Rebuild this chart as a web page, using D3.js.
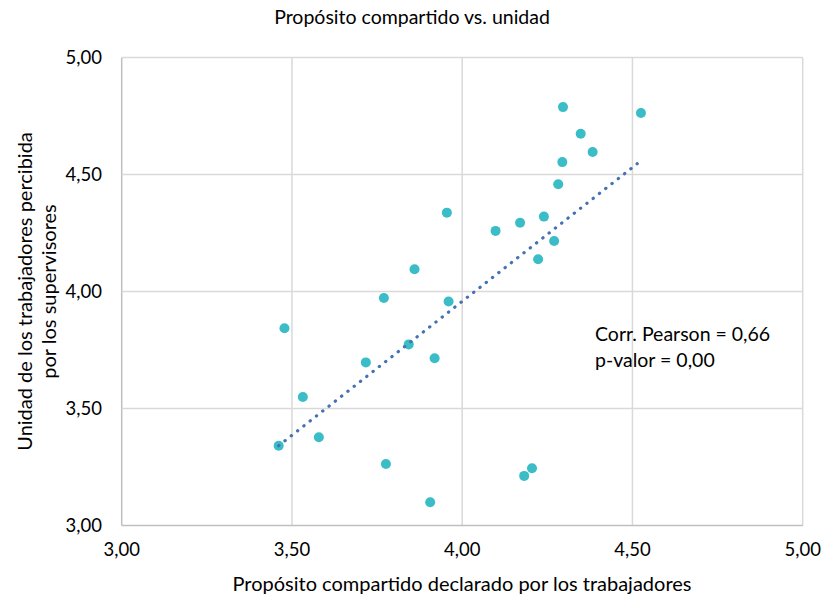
<!DOCTYPE html>
<html><head><meta charset="utf-8">
<script src="https://cdn.jsdelivr.net/npm/d3@7"></script>
<style>body{margin:0;background:#fff}text{font-family:Lato,"Open Sans",sans-serif;fill:#000}</style>
</head><body><svg id="c" width="824" height="604"></svg>
<script>
const xVals=[4.296,4.525,4.348,4.383,4.294,4.282,3.955,4.098,4.170,4.240,4.270,4.223,3.860,3.770,3.960,3.478,3.843,3.717,3.919,3.532,3.461,3.579,3.776,3.906,4.182,4.205];
const yVals=[4.788,4.763,4.674,4.596,4.553,4.458,4.337,4.259,4.294,4.320,4.216,4.138,4.095,3.972,3.957,3.843,3.774,3.697,3.715,3.549,3.341,3.377,3.263,3.099,3.212,3.245];
const trendX=[3.461,4.514];
const trendY=[3.341,4.546];
const xTicks=[3.0,3.5,4.0,4.5,5.0];
const yTicks=[3.0,3.5,4.0,4.5,5.0];
const title="Propósito compartido vs. unidad";
const xTitle="Propósito compartido declarado por los trabajadores";
const yTitle=["Unidad de los trabajadores percibida","por los supervisores"];
const note=["Corr. Pearson = 0,66","p-valor = 0,00"];

const svg=d3.select("#c");
const L=121.7,R=802.7,T=57.5,B=525.5;
const x=d3.scaleLinear().domain([3,5]).range([L,R]);
const y=d3.scaleLinear().domain([3,5]).range([B,T]);
const fmt=v=>d3.format(".2f")(v).replace(".",",");

// grid
svg.append("g").selectAll("line").data(xTicks).join("line")
 .attr("x1",d=>x(d)).attr("x2",d=>x(d)).attr("y1",T).attr("y2",B)
 .attr("stroke",d=>d===3?"#BFBFBF":"#D9D9D9").attr("stroke-width",1.5);
svg.append("g").selectAll("line").data(yTicks).join("line")
 .attr("y1",d=>y(d)).attr("y2",d=>y(d)).attr("x1",L).attr("x2",R)
 .attr("stroke",d=>d===3?"#BFBFBF":"#D9D9D9").attr("stroke-width",1.5);

// tick labels
svg.append("g").selectAll("text").data(xTicks).join("text")
 .attr("x",d=>x(d)).attr("y",556).attr("text-anchor","middle")
 .attr("font-size",18.5).text(fmt);
svg.append("g").selectAll("text").data(yTicks).join("text")
 .attr("x",102).attr("y",d=>y(d)+6.5).attr("text-anchor","end")
 .attr("font-size",18.5).text(fmt);

// points
svg.append("g").selectAll("circle").data(xVals).join("circle")
 .attr("cx",d=>x(d)).attr("cy",(d,i)=>y(yVals[i])).attr("r",5).attr("fill","#3BBDC7");
// trend line
svg.append("line").attr("x1",x(trendX[0])).attr("y1",y(trendY[0])).attr("x2",x(trendX[1])).attr("y2",y(trendY[1]))
 .attr("stroke","#4472B4").attr("stroke-width",3.2).attr("stroke-linecap","round").attr("stroke-dasharray","0.3 7.7");

// titles
svg.append("text").attr("x",412).attr("y",24).attr("text-anchor","middle").attr("font-size",19.5).text(title);
svg.append("text").attr("x",462).attr("y",591).attr("text-anchor","middle").attr("font-size",20).text(xTitle);
const yt=svg.append("text").attr("transform","translate(0,"+((T+B)/2)+") rotate(-90)").attr("text-anchor","middle").attr("font-size",20);
yt.append("tspan").attr("x",0).attr("y",32).text(yTitle[0]);
yt.append("tspan").attr("x",0).attr("y",56).text(yTitle[1]);
svg.append("g").selectAll("text").data(note).join("text")
 .attr("x",595).attr("y",(d,i)=>341+i*26).attr("font-size",19.5).text(d=>d);
</script></body></html>
